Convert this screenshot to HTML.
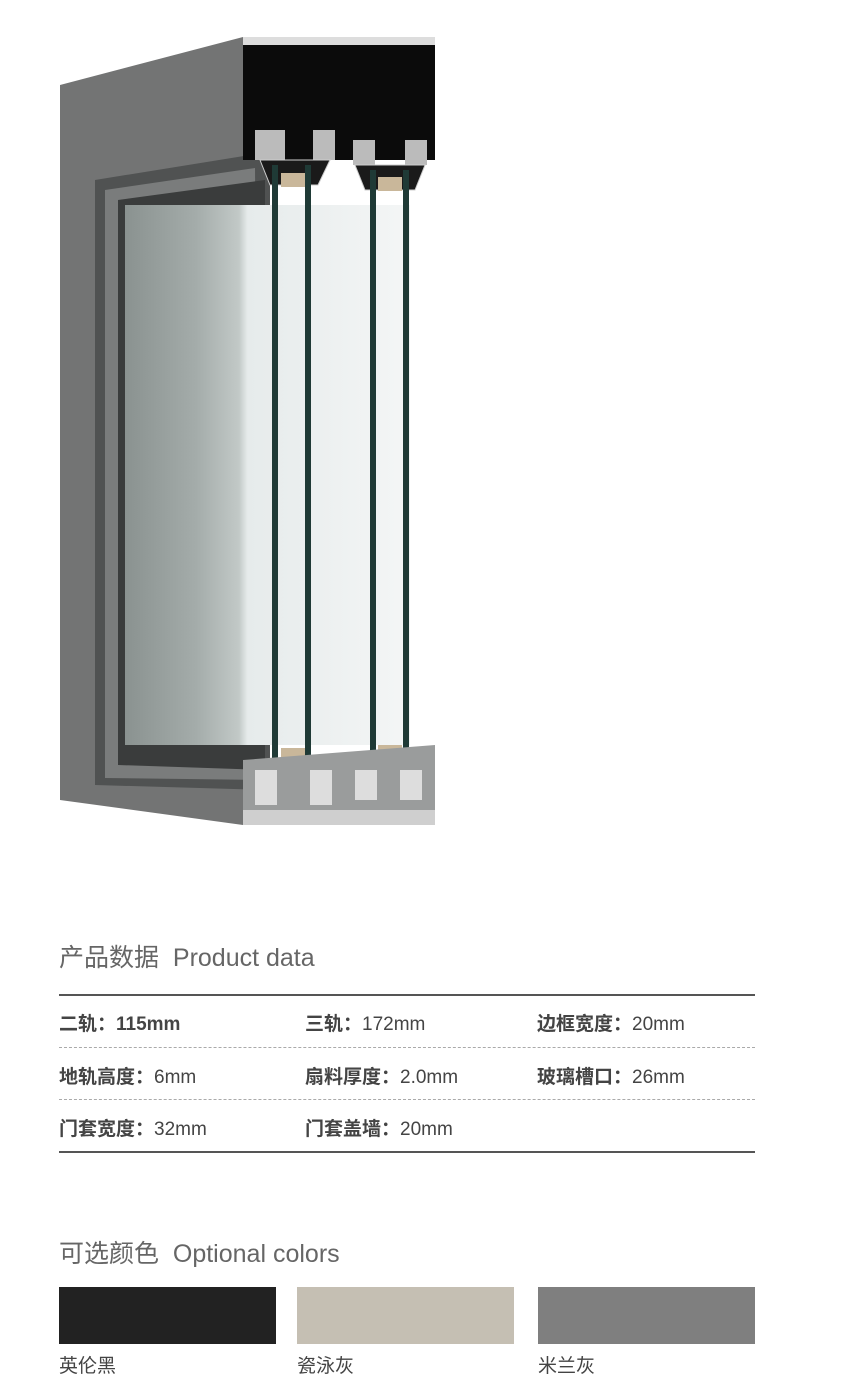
<!DOCTYPE html>
<html><head><meta charset="utf-8"><style>
body{margin:0;background:#fff;width:860px;height:1391px;position:relative;overflow:hidden;font-family:"Liberation Sans","Noto Sans CJK SC",sans-serif;color:#555}
.a{position:absolute;white-space:nowrap}
.h{font-size:25px;color:#666}
.r{font-size:19px;color:#444;font-weight:bold}
.r span{font-weight:normal}
.line{position:absolute;left:59px;width:696px}
.sw{position:absolute;top:1287px;height:57px;width:217px}
.l{font-size:19px;color:#444;top:1351px}
</style></head><body>
<svg class="a" style="left:0;top:0" width="860" height="860">
<defs>
<linearGradient id="gl" x1="0" x2="1"><stop offset="0" stop-color="#8a9290"/><stop offset="0.25" stop-color="#a4acaa"/><stop offset="0.4" stop-color="#c2c9c7"/><stop offset="0.43" stop-color="#e6ebeb"/><stop offset="1" stop-color="#f4f6f6"/></linearGradient>
</defs>
<polygon points="60,85 243,37 243,150 243,825 60,800" fill="#737474"/>
<polygon points="95,180 250,155 270,165 270,790 95,785" fill="#505252"/>
<polygon points="105,190 255,168 260,780 105,778" fill="#7a7c7c"/>
<polygon points="118,200 265,180 265,770 118,765" fill="#3a3c3c"/>
<rect x="125" y="205" width="285" height="540" fill="url(#gl)"/>
<rect x="243" y="37" width="192" height="123" fill="#0b0b0b"/>
<rect x="243" y="37" width="192" height="8" fill="#ddd"/>
<rect x="255" y="130" width="30" height="30" fill="#bbb"/><rect x="313" y="130" width="22" height="30" fill="#bbb"/>
<rect x="353" y="140" width="22" height="25" fill="#bbb"/><rect x="405" y="140" width="22" height="25" fill="#bbb"/>
<polygon points="260,160 330,160 318,185 270,185" fill="#1a1a1a" stroke="#ccc"/>
<polygon points="355,165 425,165 415,190 365,190" fill="#1a1a1a" stroke="#ccc"/>
<rect x="281" y="173" width="24" height="14" fill="#c9b79a"/><rect x="378" y="177" width="24" height="14" fill="#c9b79a"/>
<rect x="281" y="748" width="24" height="14" fill="#c9b79a"/><rect x="378" y="745" width="24" height="14" fill="#c9b79a"/>
<g fill="#1f3a36"><rect x="272" y="165" width="6" height="605"/><rect x="305" y="165" width="6" height="605"/><rect x="370" y="170" width="6" height="595"/><rect x="403" y="170" width="6" height="595"/></g>
<polygon points="243,760 435,745 435,815 243,825" fill="#9a9c9c"/>
<rect x="255" y="770" width="22" height="35" fill="#ddd"/><rect x="310" y="770" width="22" height="35" fill="#ddd"/>
<rect x="355" y="770" width="22" height="30" fill="#ddd"/><rect x="400" y="770" width="22" height="30" fill="#ddd"/>
<rect x="243" y="810" width="192" height="15" fill="#cfcfcf"/>
</svg>
<div class="a h" style="left:59px;top:938px">产品数据&nbsp; Product data</div>
<div class="line" style="top:994px;border-top:2px solid #555"></div>
<div class="line" style="top:1047px;border-top:1px dashed #aaa"></div>
<div class="line" style="top:1099px;border-top:1px dashed #aaa"></div>
<div class="line" style="top:1151px;border-top:2px solid #555"></div>
<div class="a r" style="left:59px;top:1009px">二轨：115mm</div>
<div class="a r" style="left:305px;top:1009px">三轨：<span>172mm</span></div>
<div class="a r" style="left:537px;top:1009px">边框宽度：<span>20mm</span></div>
<div class="a r" style="left:59px;top:1062px">地轨高度：<span>6mm</span></div>
<div class="a r" style="left:305px;top:1062px">扇料厚度：<span>2.0mm</span></div>
<div class="a r" style="left:537px;top:1062px">玻璃槽口：<span>26mm</span></div>
<div class="a r" style="left:59px;top:1114px">门套宽度：<span>32mm</span></div>
<div class="a r" style="left:305px;top:1114px">门套盖墙：<span>20mm</span></div>
<div class="a h" style="left:59px;top:1234px">可选颜色&nbsp; Optional colors</div>
<div class="sw" style="left:59px;background:#222"></div>
<div class="sw" style="left:297px;background:#c5bfb3"></div>
<div class="sw" style="left:538px;background:#7f7f7f"></div>
<div class="a l" style="left:59px">英伦黑</div>
<div class="a l" style="left:297px">瓷泳灰</div>
<div class="a l" style="left:538px">米兰灰</div>
</body></html>
